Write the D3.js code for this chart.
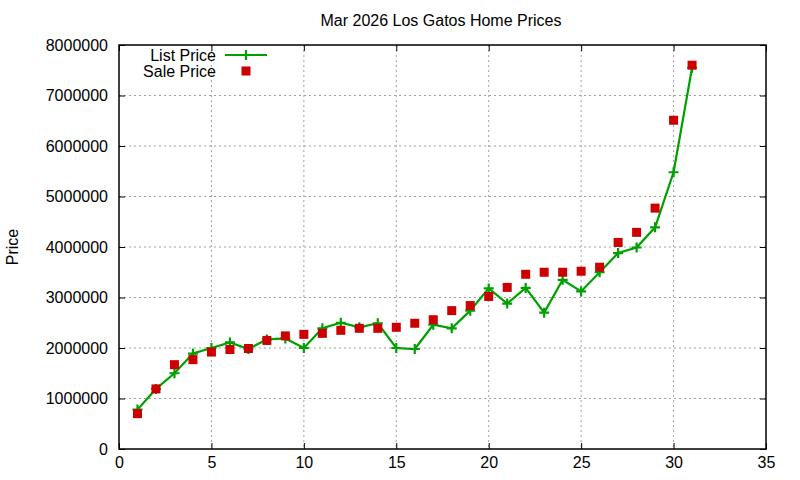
<!DOCTYPE html>
<html>
<head>
<meta charset="utf-8">
<script src="https://cdn.jsdelivr.net/npm/d3@7"></script>
<style>
  body { margin: 0; background: #fff; }
  text { font-family: "Liberation Sans", Arial, sans-serif; fill: #000; }
</style>
</head>
<body>
<svg width="800" height="480"></svg>
<script>
// Data
const days = [1, 2, 3, 4, 5, 6, 7, 8, 9, 10, 11, 12, 13, 14, 15, 16, 17, 18, 19, 20, 21, 22, 23, 24, 25, 26, 27, 28, 29, 30, 31];
const listPrice = [780000, 1190000, 1500000, 1890000, 2000000, 2110000, 1980000, 2170000, 2190000, 2000000,
  2390000, 2500000, 2410000, 2490000, 2000000, 1980000, 2460000, 2390000, 2740000, 3180000,
  2880000, 3190000, 2700000, 3350000, 3120000, 3500000, 3880000, 3990000, 4390000, 5480000, 7550000];
const salePrice = [700000, 1190000, 1670000, 1770000, 1920000, 1970000, 1990000, 2150000, 2240000, 2270000,
  2290000, 2350000, 2390000, 2390000, 2410000, 2490000, 2560000, 2740000, 2840000, 3020000,
  3200000, 3460000, 3500000, 3500000, 3520000, 3600000, 4090000, 4290000, 4770000, 6510000, 7600000];
const xTicks = [0, 5, 10, 15, 20, 25, 30, 35];
const yTicks = [0, 1000000, 2000000, 3000000, 4000000, 5000000, 6000000, 7000000, 8000000];

const svg = d3.select("svg"),
  margin = {top: 45, right: 34, bottom: 31, left: 119},
  width = 800 - margin.left - margin.right,
  height = 480 - margin.top - margin.bottom;

const x = d3.scaleLinear().domain([0, 35]).range([0, width]);
const y = d3.scaleLinear().domain([0, 8000000]).range([height, 0]);

const g = svg.append("g").attr("transform", `translate(${margin.left},${margin.top})`);

// grid
g.selectAll(".gx").data(xTicks.slice(1, -1)).join("line")
  .attr("x1", d => x(d)).attr("x2", d => x(d))
  .attr("y1", 0).attr("y2", height)
  .attr("stroke", "#a0a0a0").attr("stroke-dasharray", "2,3");
g.selectAll(".gy").data(yTicks.slice(1, -1)).join("line")
  .attr("y1", d => y(d)).attr("y2", d => y(d))
  .attr("x1", 0).attr("x2", width)
  .attr("stroke", "#a0a0a0").attr("stroke-dasharray", "2,3");

// axes, ticks inward and mirrored
const axisStyle = a => {
  a.select(".domain").remove();
  a.selectAll("text").style("font-size", "16px");
};
g.append("g").attr("transform", `translate(0,${height})`)
  .call(d3.axisBottom(x).tickValues(xTicks).tickSizeInner(-6).tickPadding(8))
  .call(axisStyle);
g.append("g")
  .call(d3.axisTop(x).tickValues(xTicks).tickSizeInner(-6).tickFormat(""))
  .call(axisStyle);
g.append("g")
  .call(d3.axisLeft(y).tickValues(yTicks).tickSizeInner(-6).tickPadding(11).tickFormat(d3.format("d")))
  .call(axisStyle);
g.append("g").attr("transform", `translate(${width},0)`)
  .call(d3.axisRight(y).tickValues(yTicks).tickSizeInner(-6).tickFormat(""))
  .call(axisStyle);
g.selectAll(".tick line").attr("stroke", "#000");

g.append("rect").attr("width", width).attr("height", height)
  .attr("fill", "none").attr("stroke", "#000").attr("stroke-width", 1.5);

// list price line
const green = "#00a000", red = "#cc0000";
const line = d3.line().x((d, i) => x(days[i])).y(d => y(d));
g.append("path").datum(listPrice)
  .attr("d", line).attr("fill", "none")
  .attr("stroke", green).attr("stroke-width", 2.2);

g.selectAll(".lp").data(listPrice).join("path")
  .attr("transform", (d, i) => `translate(${x(days[i])},${y(d)})`)
  .attr("d", "M-5,0H5M0,-5V5")
  .attr("stroke", green).attr("stroke-width", 2.2);

g.selectAll(".sp").data(salePrice).join("rect")
  .attr("x", (d, i) => x(days[i]) - 4.5)
  .attr("y", d => y(d) - 4.5)
  .attr("width", 9).attr("height", 9)
  .attr("fill", red);

// legend
const legend = svg.append("g").attr("transform", "translate(216,55)");
legend.append("text").attr("text-anchor", "end").attr("dy", "0.35em")
  .style("font-size", "16px").text("List Price");
legend.append("line").attr("x1", 9).attr("x2", 51)
  .attr("stroke", green).attr("stroke-width", 2.2);
legend.append("path").attr("transform", "translate(30,0)")
  .attr("d", "M-5,0H5M0,-5V5").attr("stroke", green).attr("stroke-width", 2.2);
legend.append("text").attr("text-anchor", "end").attr("y", 16).attr("dy", "0.35em")
  .style("font-size", "16px").text("Sale Price");
legend.append("rect").attr("x", 25.5).attr("y", 11.5).attr("width", 9).attr("height", 9)
  .attr("fill", red);

// title and y label
svg.append("text").attr("x", 441).attr("y", 26).attr("text-anchor", "middle")
  .style("font-size", "16px").text("Mar 2026 Los Gatos Home Prices");
svg.append("text").attr("transform", "translate(18,247) rotate(-90)")
  .attr("text-anchor", "middle").style("font-size", "16px").text("Price");
</script>
</body>
</html>
